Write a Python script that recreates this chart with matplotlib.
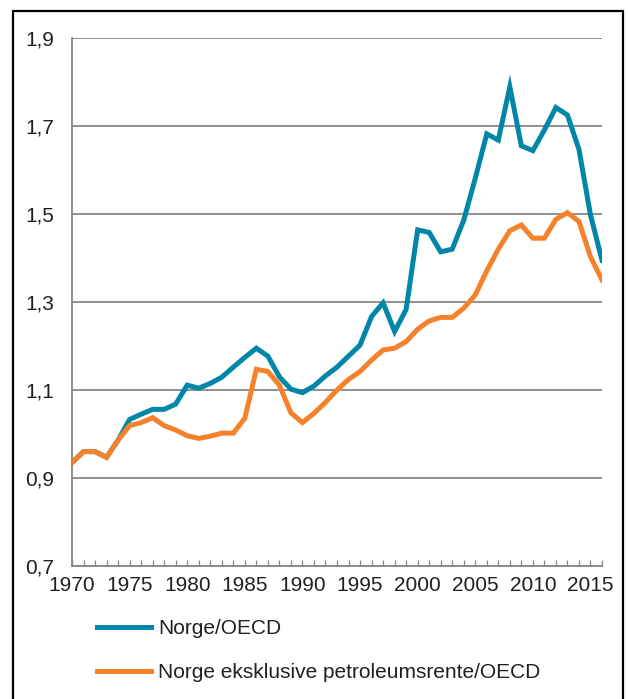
import matplotlib
matplotlib.use('Agg')
import numpy as np
import matplotlib.pyplot as plt
from matplotlib.patches import Rectangle
from matplotlib.ticker import MultipleLocator, FixedLocator, FuncFormatter

plt.rcParams['font.family'] = ['Liberation Sans', 'DejaVu Sans']

# Data
years = list(range(1970, 2017))
norge_oecd = [0.935, 0.960, 0.960, 0.947, 0.986, 1.033, 1.045, 1.056, 1.056, 1.068,
              1.111, 1.104, 1.115, 1.129, 1.152, 1.174, 1.195, 1.177, 1.130, 1.102,
              1.094, 1.109, 1.132, 1.152, 1.177, 1.202, 1.267, 1.298, 1.233, 1.283,
              1.464, 1.458, 1.414, 1.420, 1.486, 1.581, 1.682, 1.668, 1.789, 1.655,
              1.644, 1.691, 1.742, 1.725, 1.647, 1.498, 1.395]
norge_eks_petro = [0.935, 0.960, 0.960, 0.947, 0.986, 1.019, 1.026, 1.037, 1.019, 1.009,
                   0.996, 0.990, 0.995, 1.002, 1.002, 1.036, 1.147, 1.142, 1.111, 1.048,
                   1.026, 1.047, 1.072, 1.100, 1.124, 1.142, 1.168, 1.191, 1.195, 1.210,
                   1.238, 1.257, 1.265, 1.265, 1.286, 1.316, 1.371, 1.420, 1.462, 1.475,
                   1.445, 1.445, 1.488, 1.503, 1.483, 1.403, 1.350]
labels = ['Norge/OECD', 'Norge eksklusive petroleumsrente/OECD']
colors = ['#0086a8', '#f5822a']
y_ticks = [0.7, 0.9, 1.1, 1.3, 1.5, 1.7, 1.9]

W, H = 628, 699
fig = plt.figure(figsize=(W / 100, H / 100), dpi=100)
ax = fig.add_axes([72 / W, 1 - 566 / H, 530 / W, 528 / H])

ax.plot(years, norge_oecd, color=colors[0], lw=3.6, label=labels[0],
        solid_joinstyle='miter', zorder=3)
ax.plot(years, norge_eks_petro, color=colors[1], lw=3.6, label=labels[1],
        solid_joinstyle='miter', zorder=3)

ax.set_xlim(1970, 2016)
ax.set_ylim(0.7, 1.9)

grid_c = '#878787'
ax.yaxis.set_major_locator(FixedLocator(y_ticks))
ax.yaxis.set_major_formatter(FuncFormatter(lambda v, p: f'{v:.1f}'.replace('.', ',')))
ax.grid(axis='y', color=grid_c, lw=1.3)
ax.set_axisbelow(True)

ax.xaxis.set_major_locator(MultipleLocator(5))
ax.xaxis.set_minor_locator(MultipleLocator(1))
ax.tick_params(axis='x', which='both', direction='in', length=4.5, width=0.9,
               color=grid_c, pad=7, labelsize=15, labelcolor='#231f20')
ax.tick_params(axis='y', length=0, pad=13, labelsize=15, labelcolor='#231f20')

for s in ['top', 'right']:
    ax.spines[s].set_visible(False)
for s in ['left', 'bottom']:
    ax.spines[s].set_color(grid_c)
    ax.spines[s].set_linewidth(1.3)

leg = fig.legend(loc='upper left', bbox_to_anchor=(97 / W, 1 - 619 / H),
                 frameon=False, fontsize=15, handlelength=2.6, handletextpad=0.35,
                 labelspacing=1.2, borderpad=0, borderaxespad=0)
for t in leg.get_texts():
    t.set_color('#231f20')
for h in leg.get_lines():
    h.set_linewidth(3.6)

# Outer frame
fig.patches.append(Rectangle((13 / W, -0.05), 610 / W, 1.05 - 11 / H,
                             transform=fig.transFigure, fill=False,
                             edgecolor='black', lw=1.6))

fig.savefig('out.png', dpi=100)
